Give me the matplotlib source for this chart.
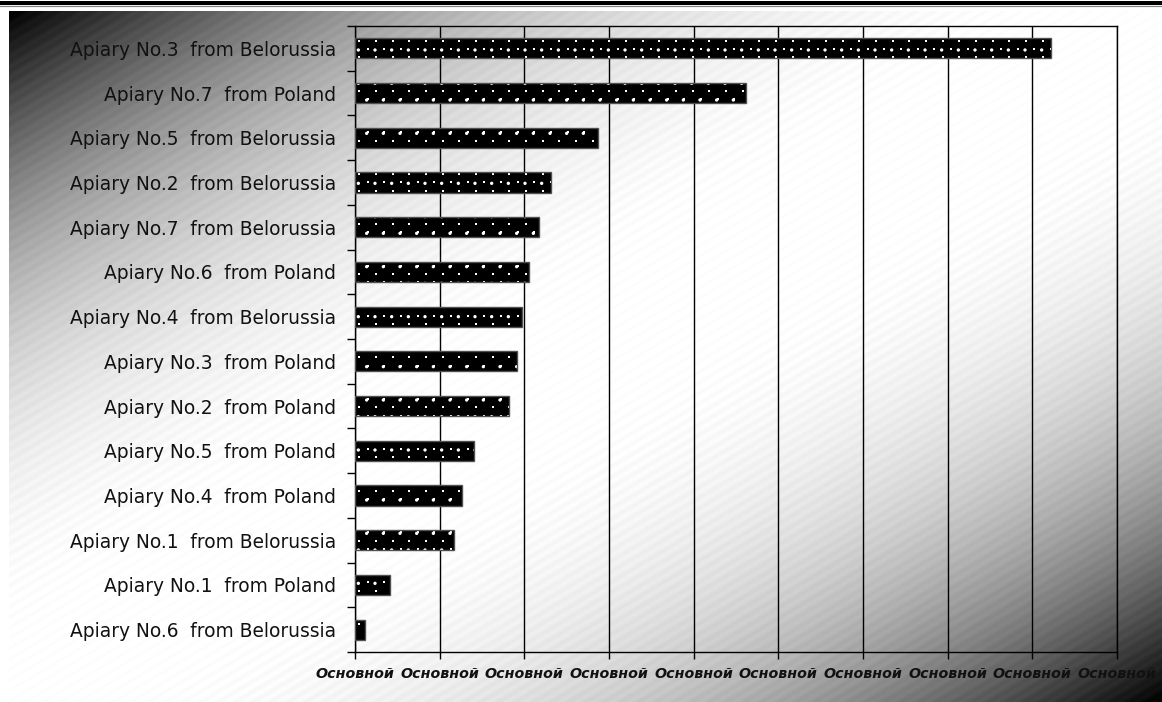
import numpy as np
import matplotlib
matplotlib.use("Agg")
import matplotlib.pyplot as plt
import matplotlib.hatch as mhatch
from matplotlib.path import Path
from matplotlib.lines import Line2D

# ---------------- data ----------------
categories = [
    "Apiary No.3  from Belorussia",
    "Apiary No.7  from Poland",
    "Apiary No.5  from Belorussia",
    "Apiary No.2  from Belorussia",
    "Apiary No.7  from Belorussia",
    "Apiary No.6  from Poland",
    "Apiary No.4  from Belorussia",
    "Apiary No.3  from Poland",
    "Apiary No.2  from Poland",
    "Apiary No.5  from Poland",
    "Apiary No.4  from Poland",
    "Apiary No.1  from Belorussia",
    "Apiary No.1  from Poland",
    "Apiary No.6  from Belorussia",
]
values = [8.22, 4.62, 2.87, 2.32, 2.17, 2.06, 1.97, 1.91, 1.82, 1.41, 1.26, 1.17, 0.41, 0.12]
x_ticks = [0, 1, 2, 3, 4, 5, 6, 7, 8, 9]
x_tick_labels = ["Основной"] * 10


# ---------------- custom dotted hatch (Excel-like "dotted" pattern) ----------------
TILE = 100.0  # hatch tile size in pixels at dpi=100


class DotLattice(mhatch.HatchPatternBase):
    def __init__(self, hatch, density):
        n = hatch.count('.')
        self.scodes = np.array([Path.MOVETO, Path.LINETO, Path.LINETO,
                                Path.LINETO, Path.CLOSEPOLY], dtype=Path.code_type)
        centers = []
        if n:
            ncols, nrows = 6, 12
            for r in range(nrows):
                py = round(r * TILE / nrows)
                if r % 2 == 0:
                    cols = [k / ncols for k in range(ncols)]
                else:
                    cols = [(k + 0.5) / ncols for k in range(ncols)]
                for c in cols:
                    px = round(c * TILE)
                    centers.append((px, py))
        self.centers = centers
        self.num_vertices = len(centers) * 5

    def set_vertices_and_codes(self, vertices, codes):
        d = 2.0
        vparts = []
        for px, py in self.centers:
            sq = np.array([[px, py], [px + d, py], [px + d, py + d],
                           [px, py + d], [px, py]]) / TILE
            vparts.append(sq)
        np.concatenate(vparts, out=vertices)
        np.concatenate([self.scodes] * len(self.centers), out=codes)


mhatch._hatch_types = [t for t in mhatch._hatch_types
                       if t.__name__ != "SmallCircles"] + [DotLattice]

plt.rcParams['font.family'] = ['DejaVu Sans']
plt.rcParams['hatch.color'] = 'white'
plt.rcParams['hatch.linewidth'] = 0.0

W, H = 1162, 702
fig = plt.figure(figsize=(W / 100, H / 100), dpi=100, facecolor='white')

# ---------------- gradient background ----------------
bx0, by0 = 9, 11
bw, bh = W - bx0, H - by0
bg = fig.add_axes([bx0 / W, 0, bw / W, bh / H])
yy, xx = np.mgrid[0:bh, 0:bw]
s = xx / (bw - 1) + yy / (bh - 1)
t = np.abs(s - 1.0)
bright = 1.0 - t ** 2.5
bright += 0.012 * np.sin(2 * np.pi * s / 0.0152)
bright = np.clip(bright, 0, 1)
bg.imshow(bright, cmap='gray', vmin=0, vmax=1, aspect='auto',
          interpolation='bilinear', extent=[0, bw, bh, 0])
bg.set_axis_off()

# top border lines
fig.add_artist(Line2D([0, 1], [1 - 3 / H, 1 - 3 / H], transform=fig.transFigure,
                      color='black', linewidth=4 * 0.72))
fig.add_artist(Line2D([0, 1], [1 - 6 / H, 1 - 6 / H], transform=fig.transFigure,
                      color='#808080', linewidth=1.2 * 0.72))

# ---------------- main chart ----------------
L, R, T, B = 355, 1117, 26, 652
ax = fig.add_axes([L / W, 1 - B / H, (R - L) / W, (B - T) / H])
ax.set_facecolor('none')

ypos = np.arange(len(categories))
ax.barh(ypos, values, height=0.45, color='black', edgecolor='white',
        linewidth=0, hatch='.', zorder=3)
ax.barh(ypos, values, height=0.45, fill=False, edgecolor='#505050',
        linewidth=1.0, zorder=4)

ax.set_xlim(0, 9)
ax.set_ylim(len(categories) - 0.5, -0.5)

ax.set_xticks(x_ticks)
ax.set_xticklabels(x_tick_labels, fontsize=10.3, fontweight='bold', fontstyle='italic',
                   color='#111111')
ax.set_yticks(ypos)
ax.set_yticklabels(categories, fontsize=13.4, color='#111111')
ax.set_yticks(np.arange(len(categories) + 1) - 0.5, minor=True)

ax.tick_params(axis='y', which='major', length=0, pad=13.5)
ax.tick_params(axis='y', which='minor', length=6, width=1, color='black', direction='out')
ax.tick_params(axis='x', which='major', length=5, width=1, color='black',
               direction='out', pad=6)

ax.grid(axis='x', color='black', linewidth=1.0, zorder=1)
ax.set_axisbelow(True)
for sp in ax.spines.values():
    sp.set_color('black')
    sp.set_linewidth(1.0)

fig.savefig("out.png", dpi=100, facecolor='white')
